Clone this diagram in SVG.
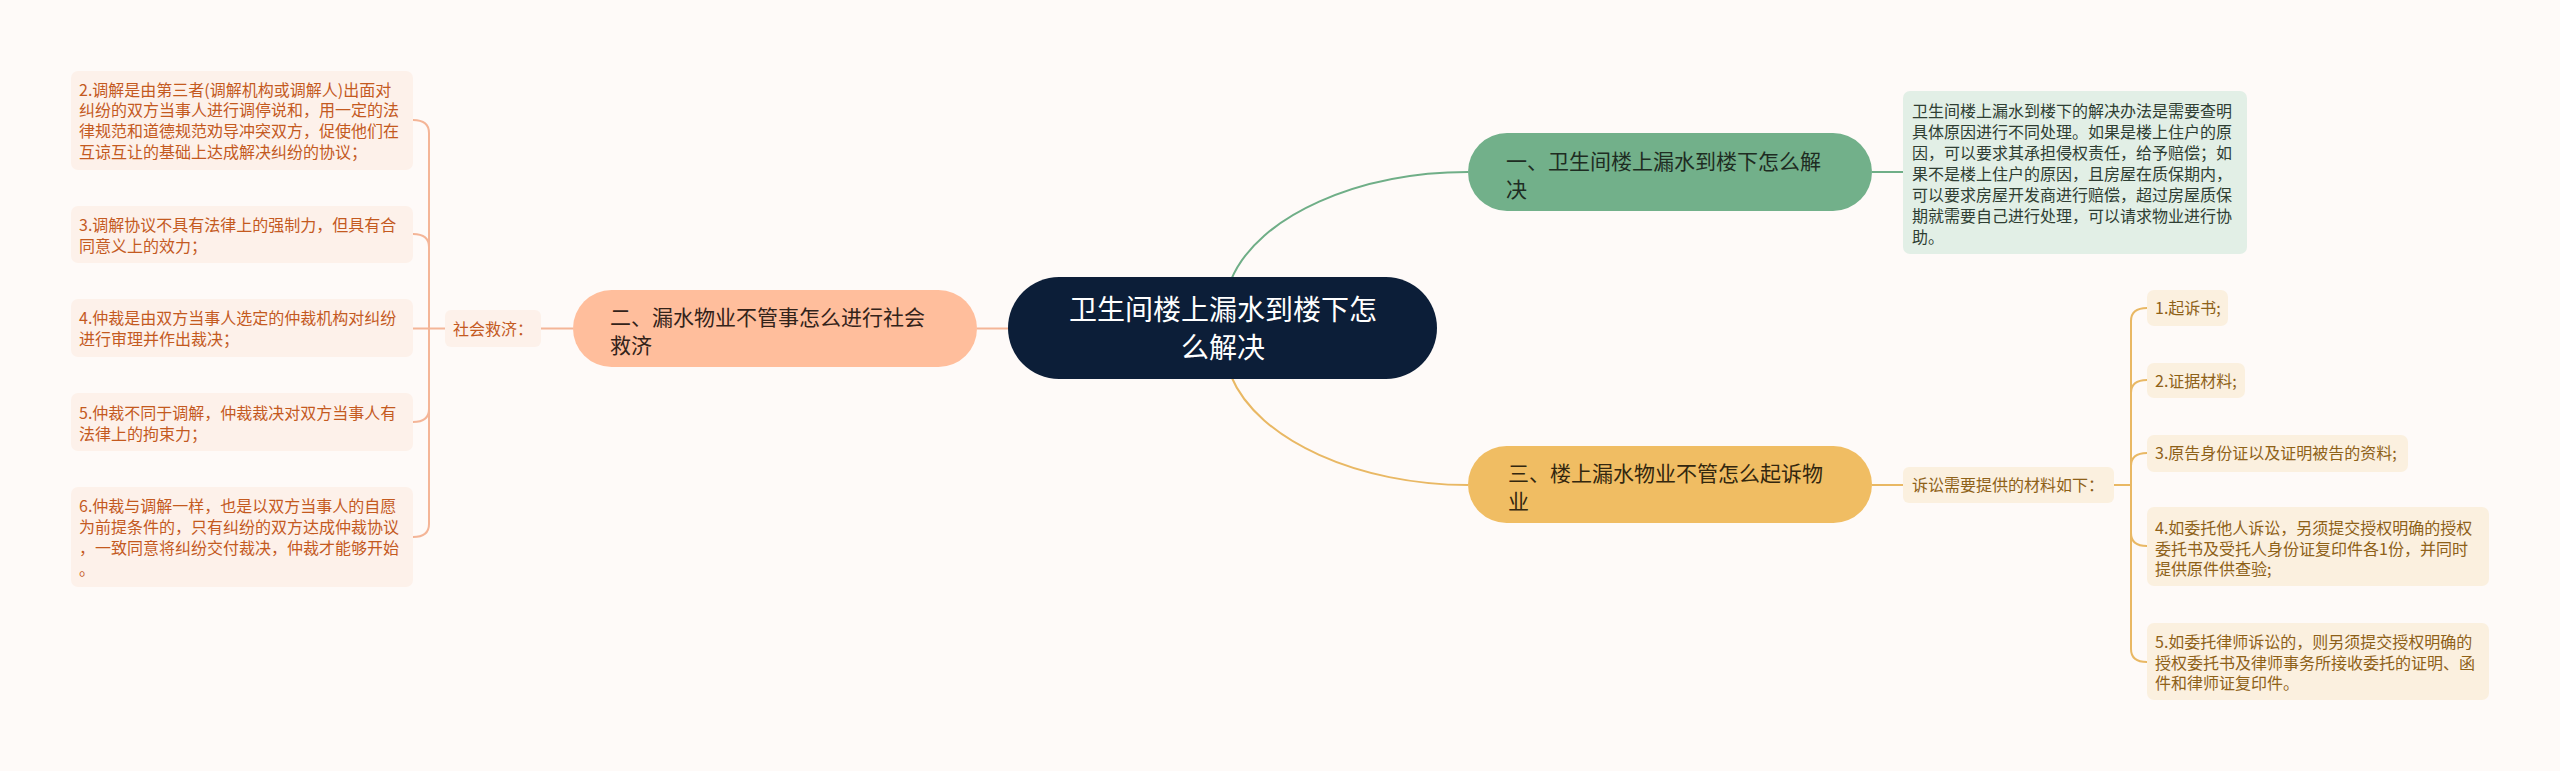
<svg xmlns="http://www.w3.org/2000/svg" width="2560" height="771" viewBox="0 0 2560 771">
<style>
text{font-family:"Noto Sans CJK SC","Noto Sans",sans-serif;}
.bg{fill:#FEFAF8;}
.c-sal{fill:none;stroke:#F4B597;stroke-width:2;}
.c-grn{fill:none;stroke:#6FAE87;stroke-width:2;}
.c-gld{fill:none;stroke:#E9B864;stroke-width:2;}
.center rect{fill:#0C1E38;}
.center text{fill:#FFFFFF;font-size:28px;text-anchor:middle;}
.main text{font-size:21px;}
.n1 rect{fill:#72B08A;}
.n1 text{fill:#1E2C22;}
.n2 rect{fill:#FFBE9C;}
.n2 text{fill:#33231A;}
.n3 rect{fill:#F0BD63;}
.n3 text{fill:#33270F;}
.ls rect{fill:#FDF1EA;}
.ls text{fill:#C45A1F;font-size:16px;}
.gs rect{fill:#E2EFE6;}
.gs text{fill:#2F3E33;font-size:16px;}
.rs rect{fill:#FBF0DF;}
.rs text{fill:#8E6118;font-size:16px;}
</style>
<rect class="bg" x="0" y="0" width="2560" height="771"/>
<g id="connectors">
  <path class="c-grn" d="M1231 280 C1258 215, 1360 172, 1468 172"/>
  <path class="c-gld" d="M1231 376 C1258 441, 1360 485, 1468 485"/>
  <path class="c-sal" d="M977 328.5 H1008"/>
  <path class="c-sal" d="M541 328.5 H573"/>
  <path class="c-sal" d="M445 328.5 H413"/>
  <path class="c-sal" d="M429 328.5 V133 Q429 120 413 120"/>
  <path class="c-sal" d="M429 328.5 V247 Q429 234 413 234"/>
  <path class="c-sal" d="M429 328.5 V409 Q429 422 413 422"/>
  <path class="c-sal" d="M429 328.5 V524 Q429 537 413 537"/>
  <path class="c-grn" d="M1872 172 H1903"/>
  <path class="c-gld" d="M1872 485 H1903"/>
  <path class="c-gld" d="M2114 485 H2131"/>
  <path class="c-gld" d="M2131 485 V321 Q2131 308 2147 308"/>
  <path class="c-gld" d="M2131 485 V393 Q2131 380 2147 380"/>
  <path class="c-gld" d="M2131 485 V466 Q2131 453 2147 453"/>
  <path class="c-gld" d="M2131 485 V533 Q2131 546 2147 546"/>
  <path class="c-gld" d="M2131 485 V649 Q2131 662 2147 662"/>
</g>
<g id="center" class="center">
  <rect x="1008" y="277" width="429" height="102" rx="51"/>
  <text x="1223" y="320">卫生间楼上漏水到楼下怎</text>
  <text x="1223" y="358">么解决</text>
</g>
<g id="node1" class="main n1">
  <rect x="1468" y="133" width="404" height="78" rx="39"/>
  <text x="1506" y="168.5">一、卫生间楼上漏水到楼下怎么解</text>
  <text x="1506" y="196.5">决</text>
</g>
<g id="node2" class="main n2">
  <rect x="573" y="290" width="404" height="77" rx="38.5"/>
  <text x="610" y="325">二、漏水物业不管事怎么进行社会</text>
  <text x="610" y="353">救济</text>
</g>
<g id="node3" class="main n3">
  <rect x="1468" y="446" width="404" height="77" rx="38.5"/>
  <text x="1508" y="481">三、楼上漏水物业不管怎么起诉物</text>
  <text x="1508" y="509">业</text>
</g>
<g id="node1-detail" class="gs">
  <rect x="1903" y="91" width="344" height="163" rx="7"/>
  <text x="1912" y="116.5">卫生间楼上漏水到楼下的解决办法是需要查明</text>
  <text x="1912" y="137.5">具体原因进行不同处理。如果是楼上住户的原</text>
  <text x="1912" y="158.5">因，可以要求其承担侵权责任，给予赔偿；如</text>
  <text x="1912" y="179.5">果不是楼上住户的原因，且房屋在质保期内，</text>
  <text x="1912" y="200.5">可以要求房屋开发商进行赔偿，超过房屋质保</text>
  <text x="1912" y="221.5">期就需要自己进行处理，可以请求物业进行协</text>
  <text x="1912" y="242.5">助。</text>
</g>
<g id="social" class="ls">
  <rect x="445" y="310" width="96" height="37" rx="6"/>
  <text x="453" y="334.5">社会救济：</text>
</g>
<g id="left2" class="ls">
  <rect x="71" y="71" width="342" height="99" rx="7"/>
  <text x="79" y="95.5">2.调解是由第三者(调解机构或调解人)出面对</text>
  <text x="79" y="116.2">纠纷的双方当事人进行调停说和，用一定的法</text>
  <text x="79" y="136.9">律规范和道德规范劝导冲突双方，促使他们在</text>
  <text x="79" y="157.6">互谅互让的基础上达成解决纠纷的协议；</text>
</g>
<g id="left3" class="ls">
  <rect x="71" y="206" width="342" height="57" rx="7"/>
  <text x="79" y="231">3.调解协议不具有法律上的强制力，但具有合</text>
  <text x="79" y="252">同意义上的效力；</text>
</g>
<g id="left4" class="ls">
  <rect x="71" y="299" width="342" height="58" rx="7"/>
  <text x="79" y="324">4.仲裁是由双方当事人选定的仲裁机构对纠纷</text>
  <text x="79" y="344.5">进行审理并作出裁决；</text>
</g>
<g id="left5" class="ls">
  <rect x="71" y="393" width="342" height="58" rx="7"/>
  <text x="79" y="419">5.仲裁不同于调解，仲裁裁决对双方当事人有</text>
  <text x="79" y="439.5">法律上的拘束力；</text>
</g>
<g id="left6" class="ls">
  <rect x="71" y="487" width="342" height="100" rx="7"/>
  <text x="79" y="512">6.仲裁与调解一样，也是以双方当事人的自愿</text>
  <text x="79" y="533">为前提条件的，只有纠纷的双方达成仲裁协议</text>
  <text x="79" y="554">，一致同意将纠纷交付裁决，仲裁才能够开始</text>
  <text x="79" y="575">。</text>
</g>
<g id="lawsuit" class="rs">
  <rect x="1903" y="467" width="211" height="36" rx="6"/>
  <text x="1912" y="491">诉讼需要提供的材料如下：</text>
</g>
<g id="right1" class="rs">
  <rect x="2147" y="290" width="81" height="36" rx="7"/>
  <text x="2155" y="314">1.起诉书;</text>
</g>
<g id="right2" class="rs">
  <rect x="2147" y="363" width="98" height="35" rx="7"/>
  <text x="2155" y="386.5">2.证据材料;</text>
</g>
<g id="right3" class="rs">
  <rect x="2147" y="435" width="261" height="37" rx="7"/>
  <text x="2155" y="459">3.原告身份证以及证明被告的资料;</text>
</g>
<g id="right4" class="rs">
  <rect x="2147" y="507" width="342" height="79" rx="7"/>
  <text x="2155" y="534">4.如委托他人诉讼，另须提交授权明确的授权</text>
  <text x="2155" y="554.5">委托书及受托人身份证复印件各1份，并同时</text>
  <text x="2155" y="575">提供原件供查验;</text>
</g>
<g id="right5" class="rs">
  <rect x="2147" y="623" width="342" height="77" rx="7"/>
  <text x="2155" y="648">5.如委托律师诉讼的，则另须提交授权明确的</text>
  <text x="2155" y="668.5">授权委托书及律师事务所接收委托的证明、函</text>
  <text x="2155" y="689">件和律师证复印件。</text>
</g>
</svg>
